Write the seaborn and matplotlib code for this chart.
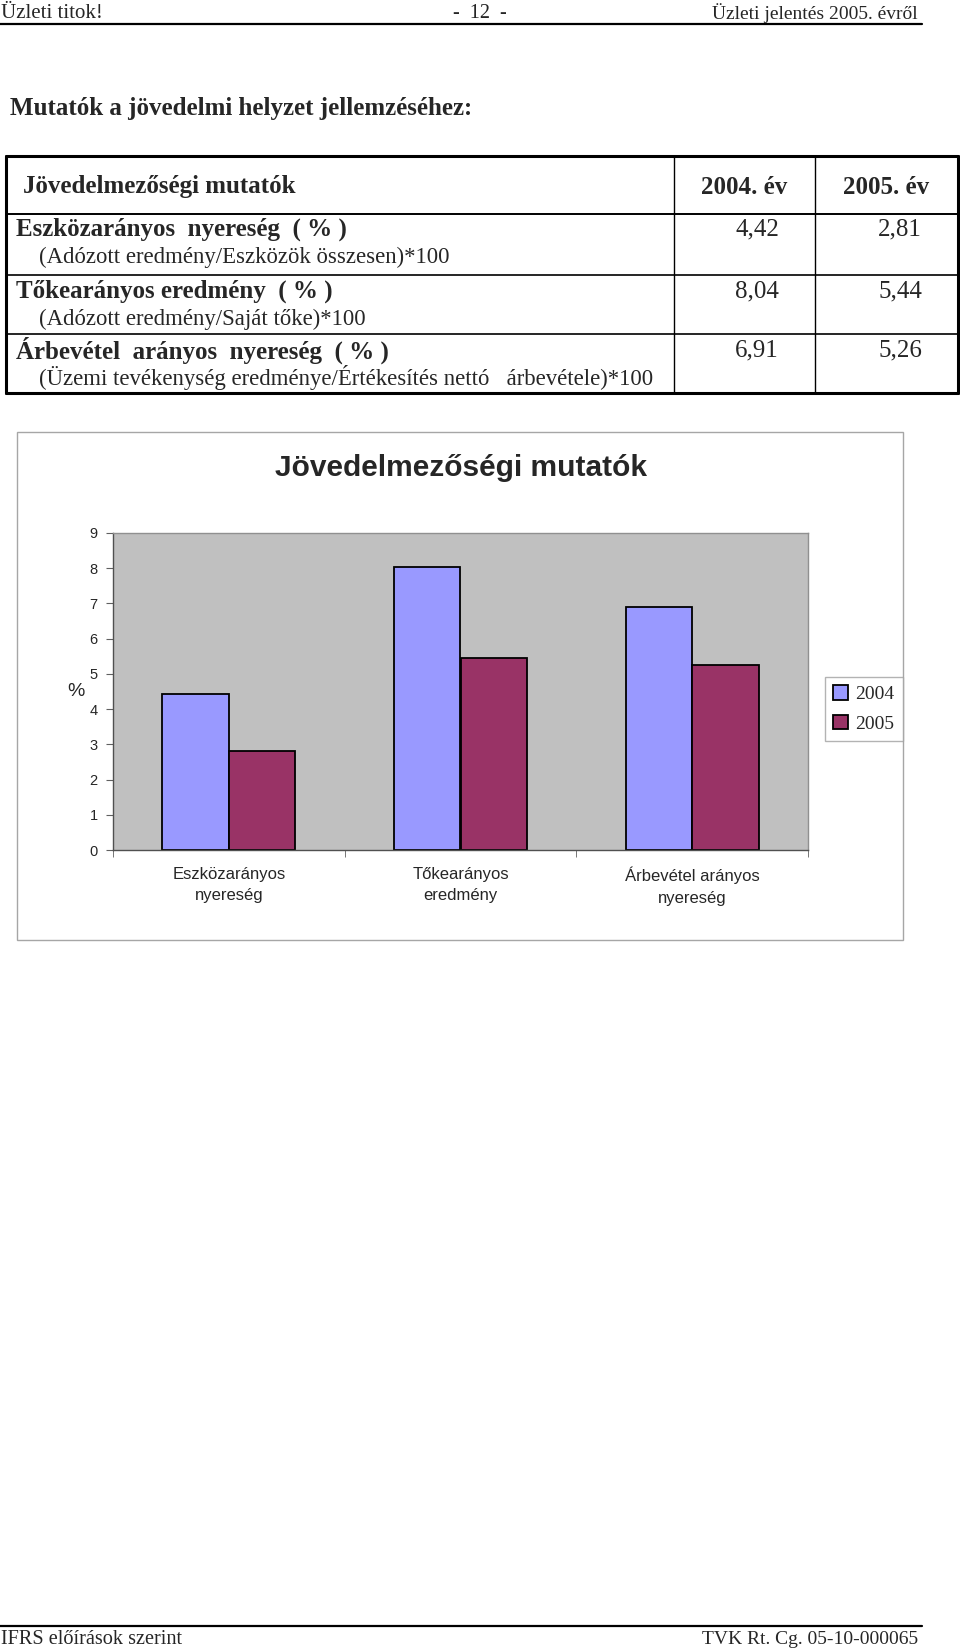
import pandas as pd
import matplotlib
matplotlib.use("Agg")
import matplotlib.pyplot as plt
import seaborn as sns
from matplotlib.lines import Line2D
from matplotlib.patches import Rectangle

# Data
indicators = ["Eszközarányos nyereség", "Tőkearányos eredmény", "Árbevétel arányos nyereség"]
formulas = [
    "(Adózott eredmény/Eszközök összesen)*100",
    "(Adózott eredmény/Saját tőke)*100",
    "(Üzemi tevékenység eredménye/Értékesítés nettó   árbevétele)*100",
]
row_titles = ["Eszközarányos  nyereség  ( % )", "Tőkearányos eredmény  ( % )", "Árbevétel  arányos  nyereség  ( % )"]
chart_labels = ["Eszközarányos\nnyereség", "Tőkearányos\neredmény", "Árbevétel arányos\nnyereség"]
years = ["2004", "2005"]
values_2004 = [4.42, 8.04, 6.91]
values_2005 = [2.81, 5.44, 5.26]
table_2004 = ["4,42", "8,04", "6,91"]
table_2005 = ["2,81", "5,44", "5,26"]
y_ticks = list(range(0, 10))

df = pd.DataFrame({
    "cat": chart_labels * 2,
    "val": values_2004 + values_2005,
    "year": [years[0]] * 3 + [years[1]] * 3,
})

W, H = 960, 1650
SERIF = "Liberation Serif"
SANS = "Liberation Sans"

sns.set_style("white")
fig = plt.figure(figsize=(W / 100, H / 100), dpi=100)


def fx(x):
    return x / W


def fy(y):
    return 1 - y / H


def txt(x, y, s, **kw):
    kw.setdefault("family", SERIF)
    kw.setdefault("va", "center")
    fig.text(fx(x), fy(y), s, **kw)


def hline(x0, x1, y, lw=1.0):
    fig.add_artist(Line2D([fx(x0), fx(x1)], [fy(y), fy(y)], color="black", lw=lw))


def vline(x, y0, y1, lw=1.0):
    fig.add_artist(Line2D([fx(x), fx(x)], [fy(y0), fy(y1)], color="black", lw=lw))


# page header
txt(1, 13, "Üzleti titok!", fontsize=15)
txt(480, 13, "-  12  -", fontsize=14.5, ha="center")
txt(918, 13, "Üzleti jelentés 2005. évről", fontsize=14, ha="right")
hline(0, 922, 24, lw=1.6)

txt(10, 108, "Mutatók a jövedelmi helyzet jellemzéséhez:", fontsize=18, weight="bold")

# table
top, bottom, left, right = 156, 393, 6, 958
hline(left, right, top, lw=2.2)
hline(left, right, bottom, lw=2.2)
vline(left, top, bottom, lw=2.2)
vline(right, top, bottom, lw=2.2)
hline(left, right, 214, lw=1.4)
hline(left, right, 275, lw=1.2)
hline(left, right, 334, lw=1.2)
vline(674, top, bottom, lw=1.0)
vline(815, top, bottom, lw=1.0)

txt(23, 187, "Jövedelmezőségi mutatók", fontsize=18, weight="bold")
txt(787, 187, "2004. év", fontsize=18, weight="bold", ha="right")
txt(929, 187, "2005. év", fontsize=18, weight="bold", ha="right")

row_y = [229, 291, 350]
for i in range(3):
    txt(16, row_y[i], row_titles[i], fontsize=18, weight="bold")
    txt(39, row_y[i] + 28, formulas[i], fontsize=16.4)
    txt(779, row_y[i], table_2004[i], fontsize=18, ha="right")
    txt(922, row_y[i], table_2005[i], fontsize=18, ha="right")

# chart frame
fig.add_artist(Rectangle((fx(17), fy(940)), 886 / W, 508 / H, transform=fig.transFigure,
                         fill=False, edgecolor="#a6a6a6", lw=1.0))
fig.text(fx(461), fy(468), "Jövedelmezőségi mutatók", family=SANS, weight="bold",
         fontsize=21.5, ha="center", va="center")

ax = fig.add_axes([fx(113), fy(850), 695 / W, 317 / H])
ax.set_facecolor("#c0c0c0")
sns.barplot(data=df, x="cat", y="val", hue="year", palette=["#9999ff", "#993366"],
            saturation=1, edgecolor="black", linewidth=1.3, width=0.573, gap=0,
            ax=ax, legend=True)
ax.set_ylim(0, 9)
ax.set_xlim(-0.5, 2.5)
ax.set_yticks(y_ticks)
ax.set_yticklabels([str(t) for t in y_ticks], family=SANS, fontsize=10.5)
ax.set_xticks([0, 1, 2])
ax.set_xticklabels(chart_labels, family=SANS, fontsize=12, linespacing=1.55)
ax.set_xticks([-0.5, 0.5, 1.5, 2.5], minor=True)
ax.tick_params(axis="x", which="major", length=0, pad=12)
ax.tick_params(axis="x", which="minor", length=5, color="#606060", direction="out", bottom=True)
ax.tick_params(axis="y", length=5, color="#606060", direction="out", left=True, pad=6)
ax.set_xlabel("")
ax.set_ylabel("%", family=SANS, fontsize=14, rotation=0, labelpad=10, va="center")
for side in ["top", "right"]:
    ax.spines[side].set_color("#909090")
    ax.spines[side].set_linewidth(1.0)
for side in ["left", "bottom"]:
    ax.spines[side].set_color("#505050")
    ax.spines[side].set_linewidth(1.0)

handles, labels = ax.get_legend_handles_labels()
ax.get_legend().remove()
leg = fig.legend(handles, labels, loc="center", bbox_to_anchor=(fx(864), fy(709)),
                 prop={"family": SERIF, "size": 14}, frameon=True, fancybox=False,
                 edgecolor="#a0a0a0", handlelength=0.75, handleheight=0.75,
                 handletextpad=0.4, labelspacing=0.6, borderpad=0.45)
leg.get_frame().set_linewidth(1.0)

# page footer
hline(0, 922, 1626, lw=1.6)
txt(1, 1639, "IFRS előírások szerint", fontsize=14.6)
txt(918, 1639, "TVK Rt. Cg. 05-10-000065", fontsize=14, ha="right")

fig.savefig("out.png", dpi=100)
